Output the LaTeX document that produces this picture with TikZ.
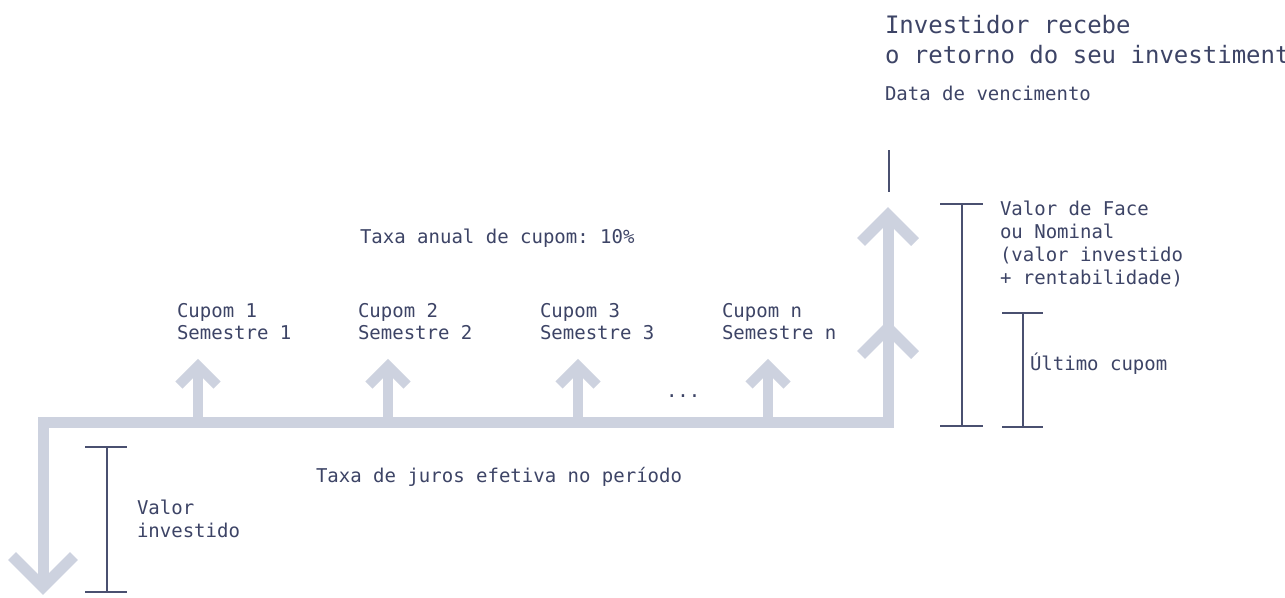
\documentclass[tikz,border=0pt]{standalone}
\usepackage{fontspec}
\setmonofont{DejaVu Sans Mono}
\definecolor{txt}{HTML}{3D4466}
\definecolor{flow}{HTML}{CDD2DF}
\definecolor{brk}{HTML}{4A5070}
\begin{document}
\begin{tikzpicture}[x=1pt,y=-1pt,
  lbl/.style={anchor=base west, inner sep=0pt, outer sep=0pt, text=txt, font=\ttfamily\fontsize{19}{22}\selectfont},
  biglbl/.style={lbl, font=\ttfamily\fontsize{24}{28}\selectfont},
  flowline/.style={draw=flow, line width=11pt, line join=miter, line cap=butt},
  cupline/.style={draw=flow, line width=10pt, line join=miter, line cap=butt},
  brkline/.style={draw=brk, line width=1.3pt}]
\useasboundingbox (0,0) rectangle (1285,597);
\fill[white] (0,0) rectangle (1285,597);

% main flow line
\coordinate (start) at (43,587);
\coordinate (corner) at (43,422.5);
\coordinate (endc) at (888,422.5);
\coordinate (topv) at (888,215);
\draw[flowline] (start) -- (corner) -- (endc) -- (topv);
% down arrow head
\coordinate (dl) at (12,556);
\coordinate (dr) at (74,556);
\draw[flowline] (dl) -- (start) -- (dr);
% big arrow heads
\coordinate (ul) at (861,242);
\coordinate (ur) at (915,242);
\draw[flowline] (ul) -- (topv) -- (ur);
\coordinate (midv) at (888,328);
\coordinate (ml) at (861,355);
\coordinate (mr) at (915,355);
\draw[flowline] (ml) -- (midv) -- (mr);

% coupon arrows
\foreach \i/\x in {1/198,2/388,3/578,4/768}{
  \coordinate (cb\i) at (\x,422.5);
  \coordinate (ct\i) at (\x,366);
  \coordinate (cl\i) at (\x-19,385);
  \coordinate (cr\i) at (\x+19,385);
  \draw[cupline] (cb\i) -- (ct\i);
  \draw[cupline] (cl\i) -- (ct\i) -- (cr\i);
}

% brackets
\coordinate (v1) at (889,150);
\coordinate (v2) at (889,192);
\draw[brkline] (v1) -- (v2);

\coordinate (fa) at (962,204);
\coordinate (fb) at (962,426);
\draw[brkline] (fa) -- (fb);
\draw[brkline] (940,204) -- (983,204);
\draw[brkline] (940,426) -- (983,426);

\coordinate (ua) at (1023,313);
\coordinate (ub) at (1023,427);
\draw[brkline] (ua) -- (ub);
\draw[brkline] (1002,313) -- (1043,313);
\draw[brkline] (1002,427) -- (1043,427);

\coordinate (va) at (107,447);
\coordinate (vb) at (107,592);
\draw[brkline] (va) -- (vb);
\draw[brkline] (85,447) -- (127,447);
\draw[brkline] (85,592) -- (127,592);

% texts
\node[biglbl] (t1) at (885,33) {Investidor recebe};
\node[biglbl] (t2) at (885,63) {o retorno do seu investimento};
\node[lbl] (venc) at (885,100) {Data de vencimento};
\node[lbl] (anual) at (360,243) {Taxa anual de cupom: 10\%};
\node[lbl] (c1a) at (177,317) {Cupom 1};
\node[lbl] (c1b) at (177,339) {Semestre 1};
\node[lbl] (c2a) at (358,317) {Cupom 2};
\node[lbl] (c2b) at (358,339) {Semestre 2};
\node[lbl] (c3a) at (540,317) {Cupom 3};
\node[lbl] (c3b) at (540,339) {Semestre 3};
\node[lbl] (c4a) at (722,317) {Cupom n};
\node[lbl] (c4b) at (722,339) {Semestre n};
\node[lbl] (dots) at (666,397) {...};
\node[lbl] (f1) at (1000,215) {Valor de Face};
\node[lbl] (f2) at (1000,238) {ou Nominal};
\node[lbl] (f3) at (1000,261) {(valor investido};
\node[lbl] (f4) at (1000,284) {+ rentabilidade)};
\node[lbl] (ult) at (1030,370) {Último cupom};
\node[lbl] (juros) at (316,482) {Taxa de juros efetiva no período};
\node[lbl] (vi1) at (137,514) {Valor};
\node[lbl] (vi2) at (137,537) {investido};
\end{tikzpicture}
\end{document}
